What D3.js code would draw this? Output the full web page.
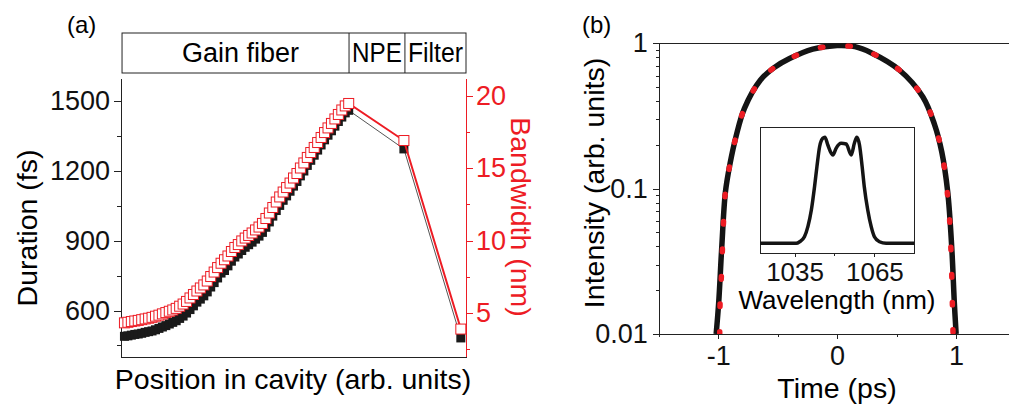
<!DOCTYPE html>
<html>
<head>
<meta charset="utf-8">
<script src="https://cdn.jsdelivr.net/npm/d3@7"></script>
<style>
body { margin: 0; background: #fff; }
svg { display: block; font-family: "Liberation Sans", Arial, sans-serif; }
.axis path, .axis line { stroke: #222; stroke-width: 1; shape-rendering: crispEdges; }
.axis text { font-size: 27px; fill: #111; }
.axis.red path, .axis.red line { stroke: #ed1c24; }
.axis.red text { fill: #ed1c24; }
</style>
</head>
<body>
<div id="chart"></div>
<script>
// (a) duration / bandwidth along the cavity
var gainDuration = [489, 491, 494, 497, 499, 502, 506, 509, 512, 517,
    523, 529, 535, 542, 549, 556, 566, 576, 589, 604,
    620, 636, 649, 663, 680, 701, 720, 740, 761, 772,
    792, 812, 830, 843, 858, 872, 883, 894, 907, 920,
    936, 958, 981, 1006, 1030, 1052, 1074, 1093, 1113, 1135,
    1155, 1179, 1200, 1224, 1246, 1268, 1290, 1312, 1334, 1354,
    1373, 1393, 1413, 1432, 1450, 1461];
var gainBandwidth = [4.32, 4.36, 4.41, 4.45, 4.49, 4.54, 4.59, 4.64, 4.70, 4.78,
    4.85, 4.94, 5.03, 5.12, 5.21, 5.32, 5.47, 5.62, 5.80, 6.04,
    6.28, 6.52, 6.73, 6.94, 7.21, 7.52, 7.83, 8.14, 8.44, 8.68,
    8.94, 9.25, 9.53, 9.73, 9.98, 10.18, 10.36, 10.53, 10.74, 10.94,
    11.19, 11.53, 11.91, 12.29, 12.67, 13.02, 13.36, 13.67, 13.98, 14.33,
    14.64, 15.02, 15.37, 15.75, 16.09, 16.44, 16.78, 17.13, 17.47, 17.79,
    18.10, 18.41, 18.72, 19.03, 19.31, 19.48];
var componentPositions = [82, 98.5];   // NPE, filter
var componentDuration = [1295, 482];
var componentBandwidth = [16.92, 3.89];
var sectionNames = ["Gain fiber", "NPE", "Filter"];
var sectionEdges = [0.3, 66.1, 82.3, 100];
var durationTicks = [600, 900, 1200, 1500];
var durationMinor = [450, 750, 1050, 1350];
var bandwidthTicks = [5, 10, 15, 20];
var bandwidthMinor = [2.5, 7.5, 12.5, 17.5];

// (b) temporal intensity, log scale
var timeBlack = [-1.018, -0.997, -0.971, -0.940, -0.901, -0.850, -0.780, -0.645, -0.530, -0.400, -0.205,
    0, 0.150, 0.286, 0.524, 0.721, 0.819, 0.881, 0.931, 0.965, 0.987, 1.002];
var intensityBlack = [0.01, 0.0163, 0.0394, 0.095, 0.149, 0.230, 0.357, 0.559, 0.680, 0.785, 0.912,
    0.966, 0.948, 0.861, 0.655, 0.429, 0.278, 0.179, 0.095, 0.0394, 0.0163, 0.01];
var timeRed = [-0.988, -0.985, -0.974, -0.955, -0.940, -0.901, -0.850, -0.780, -0.645, -0.530, -0.400, -0.205,
    0, 0.150, 0.286, 0.524, 0.721, 0.819, 0.881, 0.940, 0.962, 0.973, 0.976];
var intensityRed = [0.01, 0.0163, 0.025, 0.0614, 0.095, 0.149, 0.230, 0.357, 0.559, 0.680, 0.785, 0.912,
    0.955, 0.945, 0.861, 0.655, 0.429, 0.278, 0.179, 0.0731, 0.0306, 0.0126, 0.01];
var timeTicks = [-1, 0, 1];
var timeMinor = [-1.5, -0.5, 0.5, 1.5];
var intensityTicks = [0.01, 0.1, 1];

// inset spectrum
var wavelength = [1022, 1035.6, 1036.9, 1038.7, 1040.0, 1041.3, 1042.5, 1043.4, 1044.4, 1045.6, 1046.4,
    1047.5, 1048.8, 1049.4, 1050.6, 1052.5, 1054.4, 1056.3, 1057.5, 1058.4, 1059.4,
    1060.4, 1061.2, 1062.5, 1063.8, 1065, 1066.9, 1069.4, 1080];
var spectrum = [0, 0, 0.015, 0.062, 0.157, 0.314, 0.534, 0.723, 0.911, 0.99, 1.0,
    0.927, 0.849, 0.833, 0.896, 0.943, 0.937, 0.833, 0.946, 1.0, 0.927,
    0.723, 0.534, 0.314, 0.157, 0.062, 0.015, 0, 0];
var wavelengthTicks = [1035, 1065];
var wavelengthMinor = [1050];

var red = "#ed1c24";
var svg = d3.select("#chart").append("svg")
    .attr("width", 1009)
    .attr("height", 408);

var panelA = {
    x: d3.scaleLinear().domain([0, 100]).range([121, 466]),
    yDur: d3.scaleLinear().domain([400, 1600]).range([357, 78]),
    yBw: d3.scaleLinear().domain([1.96, 21.24]).range([357, 78]),
    plot: function() {
        var self = this,
            g = svg.append("g");

        // header with the cavity sections
        var header = g.append("g");
        header.append("rect")
            .attr("x", this.x(sectionEdges[0])).attr("y", 33)
            .attr("width", this.x(sectionEdges[3]) - this.x(sectionEdges[0])).attr("height", 40)
            .attr("fill", "none").attr("stroke", "#222");
        for (var i = 1; i < sectionEdges.length - 1; i++) {
            header.append("line")
                .attr("x1", this.x(sectionEdges[i])).attr("x2", this.x(sectionEdges[i]))
                .attr("y1", 33).attr("y2", 73)
                .attr("stroke", "#222");
        }
        sectionNames.forEach(function(name, i) {
            var x0 = self.x(sectionEdges[i]),
                x1 = self.x(sectionEdges[i + 1]),
                t = header.append("text")
                    .attr("x", (x0 + x1) / 2 + (i == 0 ? 5 : 0))
                    .attr("y", 62)
                    .attr("text-anchor", "middle")
                    .attr("font-size", 27)
                    .text(name);
            // squeeze labels that don't fit their box
            var room = x1 - x0 - 6;
            if (t.node().getComputedTextLength() > room) {
                t.attr("textLength", room).attr("lengthAdjust", "spacingAndGlyphs");
            }
        });

        g.append("g").attr("class", "axis")
            .attr("transform", "translate(121,0)")
            .call(d3.axisLeft(this.yDur).tickValues(durationTicks).tickFormat(d3.format("d"))
                .tickSize(7).tickSizeOuter(0).tickPadding(4));
        g.append("g").attr("class", "axis")
            .attr("transform", "translate(121,0)")
            .call(d3.axisLeft(this.yDur).tickValues(durationMinor).tickSize(4).tickSizeOuter(0).tickFormat(""));
        g.append("g").attr("class", "axis red")
            .attr("transform", "translate(466,0)")
            .call(d3.axisRight(this.yBw).tickValues(bandwidthTicks).tickSize(7).tickSizeOuter(0).tickPadding(3));
        g.append("g").attr("class", "axis red")
            .attr("transform", "translate(466,0)")
            .call(d3.axisRight(this.yBw).tickValues(bandwidthMinor).tickSize(4).tickSizeOuter(0).tickFormat(""));
        g.append("g").attr("class", "axis")
            .attr("transform", "translate(0,357)")
            .call(d3.axisBottom(this.x).tickValues([]).tickSizeOuter(0));

        var pos = gainDuration.map(function(d, i) { return i + 1; }).concat(componentPositions),
            dur = gainDuration.concat(componentDuration),
            bw = gainBandwidth.concat(componentBandwidth);

        var durLine = d3.line()
            .x(function(d, i) { return self.x(pos[i]); })
            .y(function(d) { return self.yDur(d); });
        var bwLine = d3.line()
            .x(function(d, i) { return self.x(pos[i]); })
            .y(function(d) { return self.yBw(d); });

        g.append("path").attr("d", durLine(dur))
            .attr("fill", "none").attr("stroke", "#555").attr("stroke-width", 1);
        g.append("g").selectAll("rect.dur")
            .data(dur)
            .enter()
            .append("rect")
            .attr("x", function(d, i) { return self.x(pos[i]) - 4.5; })
            .attr("y", function(d) { return self.yDur(d) - 4.5; })
            .attr("width", 9).attr("height", 9)
            .attr("fill", "#1a1a1a");

        g.append("path").attr("d", bwLine(bw))
            .attr("fill", "none").attr("stroke", red).attr("stroke-width", 2);
        g.append("g").selectAll("rect.bw")
            .data(bw)
            .enter()
            .append("rect")
            .attr("x", function(d, i) { return self.x(pos[i]) - 5; })
            .attr("y", function(d) { return self.yBw(d) - 5; })
            .attr("width", 10).attr("height", 10)
            .attr("fill", "#fff").attr("stroke", red).attr("stroke-width", 1);

        g.append("text")
            .attr("transform", "translate(37,228) rotate(-90)")
            .attr("text-anchor", "middle").attr("font-size", 28.5)
            .text("Duration (fs)");
        g.append("text")
            .attr("transform", "translate(511,217) rotate(90)")
            .attr("text-anchor", "middle").attr("font-size", 28.5).attr("fill", red)
            .text("Bandwidth (nm)");
        g.append("text")
            .attr("x", 293).attr("y", 389)
            .attr("text-anchor", "middle").attr("font-size", 28.5)
            .text("Position in cavity (arb. units)");
        g.append("text")
            .attr("x", 67).attr("y", 33).attr("font-size", 24)
            .text("(a)");
    }
};

var panelB = {
    x: d3.scaleLinear().domain([-1.5, 1.5]).range([658.9, 1015.3]),
    y: d3.scaleLog().domain([0.01, 1]).range([334, 43.3]),
    xIn: d3.scaleLinear().domain([1022, 1080]).range([760, 914.3]),
    yIn: d3.scaleLinear().domain([-0.094, 1.094]).range([253.3, 127.3]),
    plot: function() {
        var self = this,
            g = svg.append("g");

        g.append("clipPath").attr("id", "clipB")
            .append("rect")
            .attr("x", 658.9).attr("y", 43.3)
            .attr("width", 1009 - 658.9).attr("height", 334 - 43.3);

        var minorY = this.y.ticks().filter(function(d) { return intensityTicks.indexOf(d) < 0; });
        g.append("g").attr("class", "axis")
            .attr("transform", "translate(658.9,0)")
            .call(d3.axisLeft(this.y).tickValues(intensityTicks).tickFormat(function(d) { return d; })
                .tickSize(6).tickSizeOuter(0).tickPadding(5));
        g.append("g").attr("class", "axis")
            .attr("transform", "translate(658.9,0)")
            .call(d3.axisLeft(this.y).tickValues(minorY).tickFormat("").tickSize(3).tickSizeOuter(0));
        g.append("g").attr("class", "axis")
            .attr("transform", "translate(0,334)")
            .call(d3.axisBottom(this.x).tickValues(timeTicks).tickFormat(function(d) { return d; })
                .tickSize(5).tickSizeOuter(0).tickPadding(7));
        g.append("g").attr("class", "axis")
            .attr("transform", "translate(0,334)")
            .call(d3.axisBottom(this.x).tickValues(timeMinor).tickFormat("").tickSize(3).tickSizeOuter(0));
        g.append("line")
            .attr("x1", 658.9).attr("x2", 1009)
            .attr("y1", 43.3).attr("y2", 43.3)
            .attr("stroke", "#222").attr("shape-rendering", "crispEdges");

        var curve = d3.line()
            .x(function(d) { return self.x(d[0]); })
            .y(function(d) { return self.y(d[1]); })
            .curve(d3.curveCatmullRom.alpha(0.5));
        var plot = g.append("g").attr("clip-path", "url(#clipB)");
        plot.append("path")
            .attr("d", curve(d3.zip(timeBlack, intensityBlack)))
            .attr("fill", "none").attr("stroke", "#141414").attr("stroke-width", 5.5);
        plot.append("path")
            .attr("d", curve(d3.zip(timeRed, intensityRed)))
            .attr("fill", "none").attr("stroke", red).attr("stroke-width", 5.5)
            .attr("stroke-linecap", "round").attr("stroke-dasharray", "2.5,25");

        // inset
        var inset = g.append("g");
        inset.append("rect")
            .attr("x", 760).attr("y", 127.3).attr("width", 914.3 - 760).attr("height", 253.3 - 127.3)
            .attr("fill", "#fff").attr("stroke", "#222").attr("shape-rendering", "crispEdges");
        inset.append("g").attr("class", "axis")
            .attr("transform", "translate(0,253.3)")
            .call(d3.axisBottom(this.xIn).tickValues(wavelengthTicks).tickFormat(function(d) { return d; })
                .tickSize(4).tickSizeOuter(0).tickPadding(5))
            .call(function(a) { a.select(".domain").remove(); a.selectAll("text").style("font-size", "26px"); });
        inset.append("g").attr("class", "axis")
            .attr("transform", "translate(0,253.3)")
            .call(d3.axisBottom(this.xIn).tickValues(wavelengthMinor).tickFormat("").tickSize(3).tickSizeOuter(0))
            .call(function(a) { a.select(".domain").remove(); });
        inset.append("path")
            .attr("d", d3.line()
                .x(function(d) { return self.xIn(d[0]); })
                .y(function(d) { return self.yIn(d[1]); })
                .curve(d3.curveMonotoneX)(d3.zip(wavelength, spectrum)))
            .attr("fill", "none").attr("stroke", "#141414").attr("stroke-width", 3.5);
        inset.append("text")
            .attr("x", 837).attr("y", 309)
            .attr("text-anchor", "middle").attr("font-size", 26)
            .text("Wavelength (nm)");

        g.append("text")
            .attr("transform", "translate(604,183) rotate(-90)")
            .attr("text-anchor", "middle").attr("font-size", 28.5)
            .text("Intensity (arb. units)");
        g.append("text")
            .attr("x", 837).attr("y", 398)
            .attr("text-anchor", "middle").attr("font-size", 28.5)
            .text("Time (ps)");
        g.append("text")
            .attr("x", 582).attr("y", 33).attr("font-size", 24)
            .text("(b)");
    }
};

panelA.plot();
panelB.plot();
</script>
</body>
</html>
